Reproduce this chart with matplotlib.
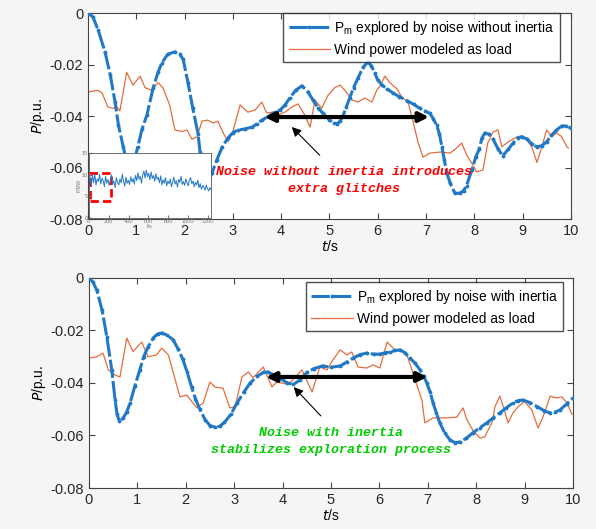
import matplotlib
matplotlib.use("Agg")
import matplotlib.pyplot as plt
from matplotlib.patches import Rectangle
import numpy as np

plt.rcParams["font.family"] = ["Liberation Sans", "DejaVu Sans"]
plt.rcParams["mathtext.fontset"] = "custom"
plt.rcParams["mathtext.rm"] = "Liberation Sans"

# top panel: noise without inertia
t_top_pm = [0, 0.1, 0.21, 0.35, 0.46, 0.56, 0.63, 0.73, 0.8, 0.88, 0.95, 1.03, 1.12, 1.22,
            1.35, 1.45, 1.53, 1.65, 1.8, 1.9, 1.97, 2.07, 2.17, 2.28, 2.32, 2.4, 2.5, 2.57,
            2.67, 2.78, 2.9, 3.0, 3.1, 3.25, 3.4, 3.5, 3.6, 3.75, 3.87, 3.98, 4.08, 4.18, 4.3,
            4.43, 4.55, 4.66, 4.77, 4.87, 5.0, 5.1, 5.16, 5.22, 5.28, 5.35, 5.42, 5.5, 5.59,
            5.7, 5.8, 5.87, 5.94, 6.0, 6.09, 6.2, 6.31, 6.45, 6.6, 6.75, 6.87, 6.98, 7.08,
            7.15, 7.22, 7.28, 7.33, 7.38, 7.43, 7.5, 7.6, 7.7, 7.78, 7.84, 7.95, 8.03, 8.1,
            8.16, 8.22, 8.3, 8.39, 8.5, 8.59, 8.7, 8.8, 8.9, 8.98, 9.1, 9.2, 9.3, 9.4, 9.5,
            9.6, 9.7, 9.81, 9.9, 10]
p_top_pm = [0, -0.0015, -0.0066, -0.015, -0.024, -0.0346, -0.0435, -0.052, -0.058, -0.061,
            -0.058, -0.052, -0.045, -0.0396, -0.029, -0.023, -0.0194, -0.016, -0.0151, -0.016,
            -0.018, -0.027, -0.037, -0.047, -0.054, -0.062, -0.065, -0.062, -0.057, -0.052,
            -0.0485, -0.0465, -0.0455, -0.045, -0.0443, -0.043, -0.0416, -0.040, -0.0385,
            -0.0377, -0.0357, -0.033, -0.030, -0.0283, -0.0305, -0.0338, -0.037, -0.039,
            -0.0415, -0.0428, -0.043, -0.042, -0.040, -0.0365, -0.033, -0.029, -0.0253, -0.021,
            -0.019, -0.0205, -0.0233, -0.026, -0.028, -0.0295, -0.031, -0.0325, -0.034, -0.0355,
            -0.037, -0.038, -0.039, -0.041, -0.0435, -0.047, -0.052, -0.057, -0.062, -0.066,
            -0.070, -0.070, -0.069, -0.067, -0.061, -0.056, -0.053, -0.0485, -0.0466, -0.047,
            -0.049, -0.053, -0.0555, -0.053, -0.0506, -0.0485, -0.048, -0.049, -0.051, -0.052,
            -0.0515, -0.050, -0.0475, -0.0455, -0.0439, -0.0438, -0.0447]

t_top_wind = [0, 0.2, 0.29, 0.41, 0.51, 0.6, 0.66, 0.8, 0.93, 1.08, 1.18, 1.32, 1.45, 1.55,
              1.69, 1.8, 1.95, 2.05, 2.15, 2.26, 2.36, 2.48, 2.59, 2.69, 2.8, 2.9, 3.0, 3.15,
              3.31, 3.46, 3.6, 3.7, 3.83, 3.93, 4.08, 4.22, 4.35, 4.49, 4.6, 4.7, 4.84, 4.97,
              5.11, 5.22, 5.32, 5.47, 5.59, 5.73, 5.88, 5.98, 6.05, 6.15, 6.25, 6.4, 6.5, 6.63,
              6.74, 6.84, 6.94, 7.08, 7.29, 7.5, 7.64, 7.74, 7.84, 7.94, 8.05, 8.18, 8.28, 8.39,
              8.49, 8.57, 8.67, 8.8, 8.9, 9.08, 9.19, 9.3, 9.4, 9.5, 9.6, 9.71, 9.81, 9.92, 9.95]
p_top_wind = [-0.0307, -0.030, -0.031, -0.0365, -0.037, -0.0365, -0.038, -0.023, -0.028,
              -0.0245, -0.029, -0.030, -0.027, -0.029, -0.0357, -0.0454, -0.046, -0.0454,
              -0.049, -0.048, -0.042, -0.0416, -0.0427, -0.042, -0.0466, -0.050, -0.046,
              -0.0357, -0.0385, -0.0377, -0.0346, -0.0388, -0.0385, -0.0396, -0.0385, -0.0365,
              -0.0353, -0.0396, -0.0443, -0.0338, -0.037, -0.032, -0.029, -0.028, -0.030,
              -0.0338, -0.0346, -0.033, -0.0346, -0.030, -0.0283, -0.0245, -0.027, -0.0295,
              -0.0326, -0.0346, -0.0427, -0.0505, -0.056, -0.0544, -0.054, -0.0544, -0.0524,
              -0.0505, -0.055, -0.058, -0.0617, -0.061, -0.0505, -0.0462, -0.0454, -0.052,
              -0.0505, -0.049, -0.048, -0.049, -0.052, -0.058, -0.052, -0.0454, -0.048,
              -0.0466, -0.048, -0.052, -0.0525]

# bottom panel: noise with inertia
t_bot_pm = [0, 0.08, 0.16, 0.27, 0.37, 0.47, 0.54, 0.58, 0.63, 0.7, 0.78, 0.85, 0.95, 1.05,
            1.13, 1.22, 1.33, 1.42, 1.51, 1.62, 1.74, 1.84, 1.94, 2.03, 2.12, 2.2, 2.29, 2.4,
            2.5, 2.6, 2.7, 2.8, 2.93, 3.06, 3.2, 3.33, 3.47, 3.6, 3.7, 3.8, 3.9, 3.98, 4.1,
            4.22, 4.35, 4.5, 4.65, 4.83, 5.0, 5.19, 5.33, 5.46, 5.6, 5.74, 5.88, 6.01, 6.12,
            6.22, 6.33, 6.43, 6.53, 6.63, 6.74, 6.84, 6.92, 6.98, 7.05, 7.11, 7.18, 7.25, 7.35,
            7.46, 7.56, 7.66, 7.8, 7.93, 8.08, 8.22, 8.35, 8.49, 8.62, 8.76, 8.87, 8.97, 9.12,
            9.26, 9.4, 9.52, 9.62, 9.73, 9.87, 10]
p_bot_pm = [0, -0.0015, -0.0046, -0.0122, -0.0225, -0.035, -0.0465, -0.052, -0.0545, -0.0535,
            -0.051, -0.0476, -0.041, -0.035, -0.030, -0.0263, -0.0228, -0.0213, -0.021,
            -0.0218, -0.0236, -0.027, -0.031, -0.036, -0.0415, -0.046, -0.050, -0.054, -0.0562,
            -0.0568, -0.0565, -0.055, -0.052, -0.0476, -0.0435, -0.040, -0.0375, -0.036,
            -0.0358, -0.0368, -0.0378, -0.0385, -0.040, -0.0405, -0.039, -0.036, -0.0345,
            -0.0335, -0.034, -0.0335, -0.032, -0.0305, -0.0292, -0.0286, -0.029, -0.029,
            -0.0285, -0.0282, -0.0276, -0.0274, -0.0285, -0.0305, -0.0325, -0.035, -0.0375,
            -0.040, -0.0435, -0.0476, -0.0515, -0.0552, -0.059, -0.0617, -0.0627, -0.0625,
            -0.061, -0.059, -0.057, -0.0552, -0.0533, -0.0514, -0.0495, -0.0476, -0.0467,
            -0.0465, -0.0475, -0.049, -0.0505, -0.0514, -0.0512, -0.0503, -0.048, -0.0457]

t_bot_wind = [0, 0.16, 0.29, 0.4, 0.54, 0.64, 0.78, 0.91, 1.09, 1.22, 1.4, 1.5, 1.64, 1.74,
              1.88, 2.02, 2.23, 2.36, 2.5, 2.6, 2.77, 2.91, 3.02, 3.16, 3.29, 3.39, 3.6, 3.78,
              3.88, 4.09, 4.15, 4.4, 4.61, 4.77, 4.92, 5.04, 5.19, 5.33, 5.43, 5.56, 5.74, 5.87,
              6.01, 6.16, 6.32, 6.46, 6.57, 6.74, 6.88, 6.94, 7.11, 7.39, 7.6, 7.73, 7.81, 7.93,
              8.08, 8.18, 8.33, 8.39, 8.49, 8.56, 8.66, 8.76, 8.87, 9.0, 9.15, 9.28, 9.38, 9.53,
              9.67, 9.77, 9.88, 9.98]
p_bot_wind = [-0.0305, -0.030, -0.0286, -0.035, -0.037, -0.0377, -0.0229, -0.028, -0.0244,
              -0.030, -0.0293, -0.0267, -0.0293, -0.036, -0.0453, -0.0446, -0.0495, -0.0476,
              -0.0396, -0.0415, -0.042, -0.0495, -0.049, -0.0377, -0.0358, -0.038, -0.0339,
              -0.0415, -0.0396, -0.0404, -0.040, -0.035, -0.0434, -0.0339, -0.035, -0.0312,
              -0.0274, -0.0293, -0.0282, -0.0339, -0.0343, -0.0331, -0.0343, -0.0244, -0.0274,
              -0.0274, -0.0293, -0.0389, -0.0465, -0.0552, -0.0533, -0.0533, -0.053, -0.0495,
              -0.054, -0.058, -0.061, -0.0605, -0.0549, -0.049, -0.045, -0.049, -0.0552,
              -0.0514, -0.049, -0.047, -0.0503, -0.0571, -0.053, -0.045, -0.0457, -0.0453,
              -0.0476, -0.052]

# inset: noisy exploration signal
inset_vals = [8.2, 9.5, 7.4, 9.8, 8.1, 10.2, 7.6, 9.0, 8.4, 10.0, 7.8, 9.2, 8.6, 7.2, 9.6,
              8.0, 8.9, 7.5, 8.8, 9.9, 7.9, 8.5, 7.0, 9.3, 8.2, 7.6, 9.0, 8.1, 10.1, 8.4, 7.3,
              9.4, 8.0, 8.7, 7.7, 9.5, 8.3, 9.1, 7.8, 9.8, 8.6, 10.4, 8.9, 9.6, 8.0, 9.9, 10.8,
              9.2, 11.0, 9.5, 10.3, 8.8, 10.6, 9.1, 9.8, 8.5, 10.2, 8.9, 9.4, 8.1, 9.7, 7.6,
              8.8, 8.0, 9.3, 7.4, 8.5, 7.9, 9.0, 7.2, 8.3, 9.4, 7.8, 8.6, 7.1, 8.9, 8.2, 9.6,
              7.7, 8.4, 7.5, 9.0, 8.1, 7.4, 8.8, 9.3, 7.9, 8.5, 7.2, 8.2, 7.6, 8.7, 7.0, 7.9,
              6.6, 7.5, 7.1, 6.4, 7.6, 6.8, 6.2, 7.0, 6.5]
inset_t = np.linspace(0, 1230, len(inset_vals))

blue = "#2078c6"
orange = "#e46c3e"
note_font = dict(family="Liberation Mono", weight="bold", style="italic", fontsize=9.5)

fig = plt.figure(figsize=(5.96, 5.29), dpi=100, facecolor="#f5f5f5")
ax1 = fig.add_axes([0.1477, 0.586, 0.810, 0.3894])
ax2 = fig.add_axes([0.1493, 0.0775, 0.812, 0.397])


def style_axes(ax):
    ax.set_xlim(0, 10)
    ax.set_ylim(-0.08, 0)
    ax.set_xticks(range(0, 11))
    ax.set_yticks([0, -0.02, -0.04, -0.06, -0.08])
    ax.set_yticklabels(["0", "-0.02", "-0.04", "-0.06", "-0.08"])
    ax.tick_params(direction="in", top=True, right=True, labelsize=10.5, length=4,
                   color="#444444", labelcolor="#262626")
    for s in ax.spines.values():
        s.set_color("#444444")
        s.set_linewidth(0.8)
    ax.set_xlabel("$\\it{t}$/s", fontsize=10, labelpad=1)
    ax.set_ylabel("$\\it{P}$/p.u.", fontsize=10, labelpad=2)


for ax, tp, pp, tw, pw, lab in [
        (ax1, t_top_pm, p_top_pm, t_top_wind, p_top_wind, "explored by noise without inertia"),
        (ax2, t_bot_pm, p_bot_pm, t_bot_wind, p_bot_wind, "explored by noise with inertia")]:
    ax.plot(tp, pp, color=blue, ls=(0, (6, 1.0)), lw=2.2, marker=".", ms=3.5,
            label="P$_{\\rm m}$ " + lab, zorder=3)
    ax.plot(tw, pw, color=orange, lw=0.9, label="Wind power modeled as load", zorder=2)
    style_axes(ax)

leg_kw = dict(loc="upper right", fontsize=9.9, frameon=True, fancybox=False,
              edgecolor="#222222", borderpad=0.4, labelspacing=0.45, handlelength=3.0,
              handletextpad=0.3, borderaxespad=0)
ax1.legend(bbox_to_anchor=(0.977, 1.0), **leg_kw)
ax2.legend(bbox_to_anchor=(0.98, 0.98), **leg_kw)

# arrows and notes
ax1.annotate("", xy=(3.6, -0.0404), xytext=(7.12, -0.0404),
             arrowprops=dict(arrowstyle="<|-|>", color="black", lw=3, mutation_scale=14))
ax1.annotate("", xy=(4.18, -0.0435), xytext=(4.84, -0.056),
             arrowprops=dict(arrowstyle="-|>", color="black", lw=0.8, mutation_scale=14))
ax1.text(5.3, -0.0652, "Noise without inertia introduces\nextra glitches", color="red",
         ha="center", va="center", linespacing=1.55, **note_font)

ax2.annotate("", xy=(3.6, -0.0377), xytext=(7.05, -0.0377),
             arrowprops=dict(arrowstyle="<|-|>", color="black", lw=3, mutation_scale=14))
ax2.annotate("", xy=(4.19, -0.0408), xytext=(4.83, -0.0533),
             arrowprops=dict(arrowstyle="-|>", color="black", lw=0.8, mutation_scale=14))
ax2.text(5.0, -0.0623, "Noise with inertia\nstabilizes exploration process", color="#00cc00",
         ha="center", va="center", linespacing=1.55, **note_font)

# inset
axi = fig.add_axes([0.149, 0.588, 0.205, 0.123])
axi.plot(inset_t, inset_vals, color=blue, lw=0.7)
axi.set_xlim(0, 1230)
axi.set_ylim(0, 15)
axi.set_xticks([0, 200, 400, 600, 800, 1000, 1200])
axi.set_yticks([0, 5, 10, 15])
axi.tick_params(direction="in", labelsize=4, length=2, colors="#777777", pad=1)
for s in axi.spines.values():
    s.set_color("#555555")
    s.set_linewidth(0.6)
axi.set_xlabel("t/s", fontsize=4, color="#777777", labelpad=0)
axi.set_ylabel("P/MW", fontsize=3.5, color="#777777", labelpad=0)
axi.add_patch(Rectangle((8, 3.8), 215, 6.6, fill=False, ec="red", lw=2, ls=(0, (3, 1.5))))

fig.savefig("out.png", dpi=100, facecolor=fig.get_facecolor())
